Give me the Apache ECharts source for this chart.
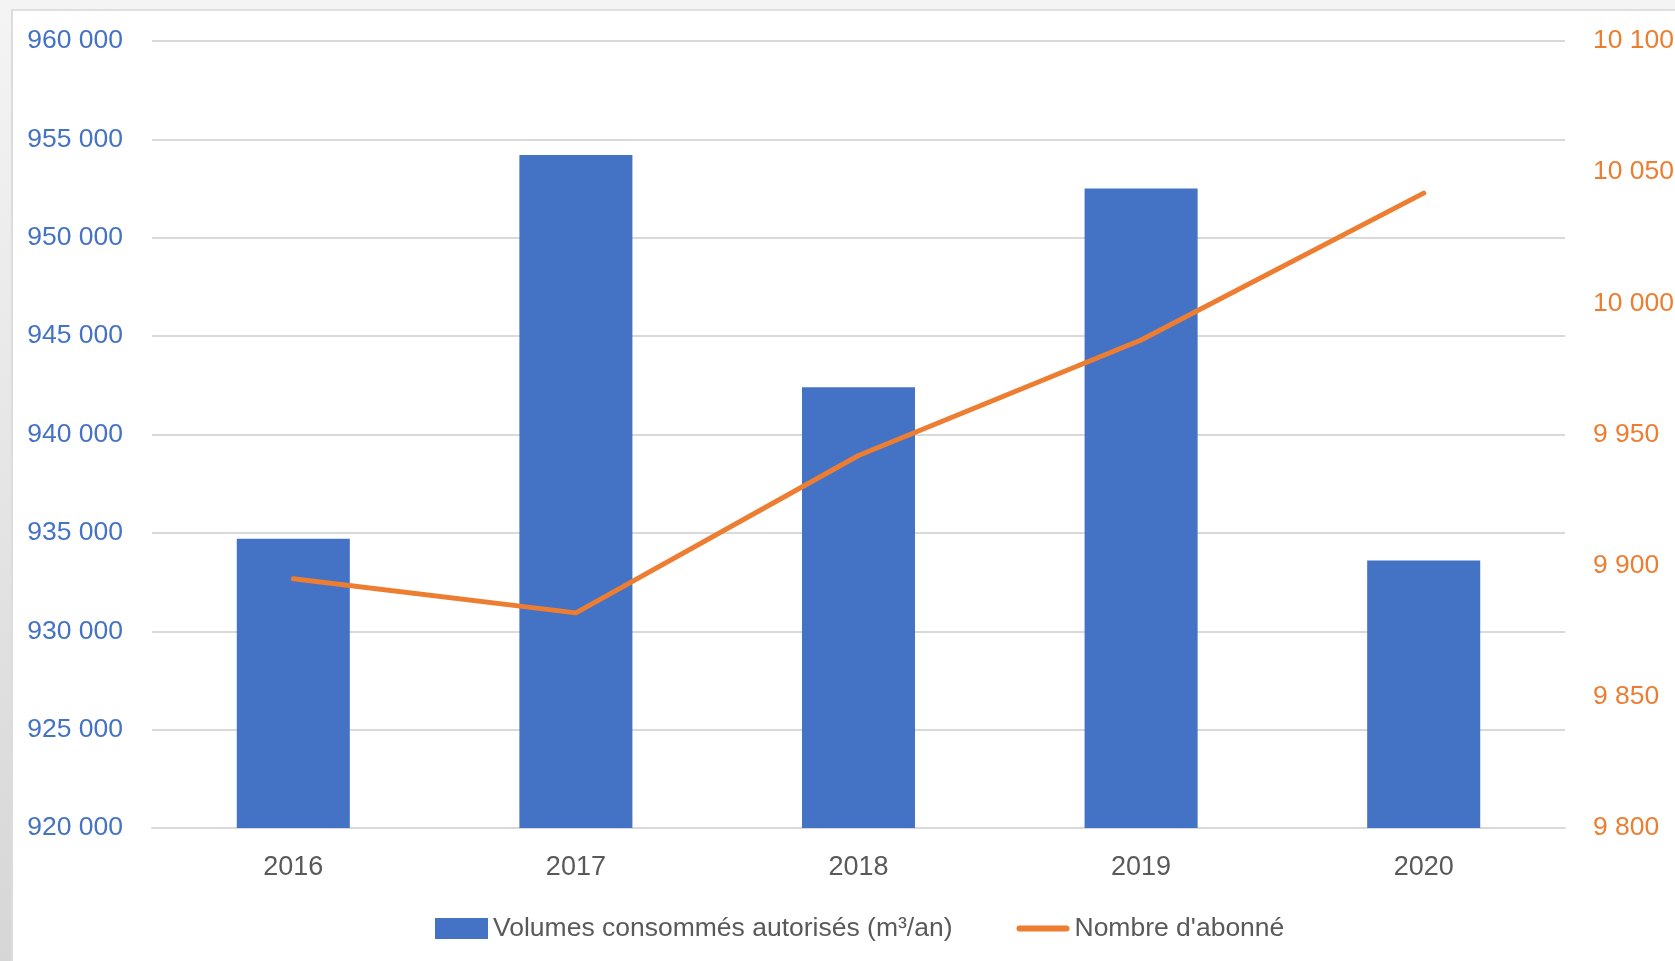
<!DOCTYPE html>
<html>
<head>
<meta charset="utf-8">
<script src="https://cdn.jsdelivr.net/npm/echarts@6/dist/echarts.min.js"></script>
<style>
html,body{margin:0;padding:0;width:1675px;height:961px;overflow:hidden;background:linear-gradient(to bottom,#f4f4f4,#d6d6d6);}
#frame{position:absolute;left:11px;top:9px;right:0;bottom:0;background:#fff;border-left:2px solid #dcdcdc;border-top:2px solid #e0e0e0;}
#chart{position:absolute;left:0;top:0;width:1675px;height:961px;}
</style>
</head>
<body>
<div id="frame"></div>
<div id="chart"></div>
<script>
var categories = ['2016', '2017', '2018', '2019', '2020'];
var volumes = [934700, 954200, 942400, 952500, 933600];
var abonnes = [9895, 9882, 9942, 9986, 10042];
var seriesNames = ['Volumes consommés autorisés (m³/an)', "Nombre d'abonné"];

var FONT = "'Liberation Sans Narrow', 'Arial Narrow', 'Liberation Sans', sans-serif";
function fmt(v){ return String(v).replace(/\B(?=(\d{3})+(?!\d))/g, ' '); }

var chart = echarts.init(document.getElementById('chart'), null, {renderer:'canvas'});
chart.setOption({
  backgroundColor: 'transparent',
  animation: false,
  grid: {left: 152, right: 110, top: 41, bottom: 133, containLabel: false, outerBoundsMode: 'none'},
  legend: {
    bottom: 14, left: 430,
    itemWidth: 53, itemHeight: 21, itemGap: 64,
    textStyle: {fontFamily: FONT, fontSize: 26.5, color: '#595959'},
    data: [
      {name: seriesNames[0], icon: 'rect'},
      {name: seriesNames[1], icon: 'path://M3,0 L52,0 A3,3 0 0 1 52,6 L3,6 A3,3 0 0 1 3,0 Z'}
    ]
  },
  xAxis: {
    type: 'category',
    data: categories,
    axisLine: {lineStyle: {color: '#d9d9d9', width: 2}},
    axisTick: {show: false},
    axisLabel: {fontFamily: FONT, fontSize: 27, color: '#595959', margin: 26}
  },
  yAxis: [
    {
      type: 'value', min: 920000, max: 960000, interval: 5000,
      axisLine: {show: false}, axisTick: {show: false},
      splitLine: {lineStyle: {color: '#d9d9d9', width: 2}},
      axisLabel: {fontFamily: FONT, fontSize: 26.5, color: '#4472C4', margin: 29, formatter: fmt}
    },
    {
      type: 'value', min: 9800, max: 10100, interval: 50,
      axisLine: {show: false}, axisTick: {show: false},
      splitLine: {show: false},
      axisLabel: {fontFamily: FONT, fontSize: 26.5, color: '#ED7D31', margin: 28, formatter: fmt}
    }
  ],
  series: [
    {
      name: seriesNames[0], type: 'bar', yAxisIndex: 0,
      data: volumes, barWidth: '40%',
      itemStyle: {color: '#4472C4'}
    },
    {
      name: seriesNames[1], type: 'line', yAxisIndex: 1,
      data: abonnes, symbol: 'none',
      lineStyle: {color: '#ED7D31', width: 5, cap: 'round', join: 'round'},
      itemStyle: {color: '#ED7D31'}
    }
  ]
});
</script>
</body>
</html>
